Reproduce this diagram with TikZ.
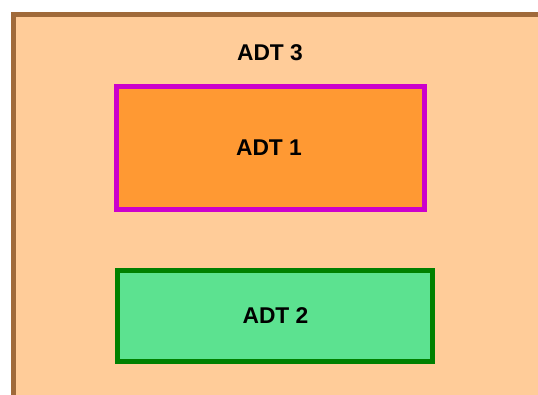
\documentclass[tikz,border=0pt]{standalone}
\usepackage{fontspec}
\setmainfont{Liberation Sans}
\definecolor{outerfill}{RGB}{255,204,153}
\definecolor{outerline}{RGB}{160,106,58}
\definecolor{onefill}{RGB}{255,153,51}
\definecolor{oneline}{RGB}{204,0,204}
\definecolor{twofill}{RGB}{92,226,144}
\definecolor{twoline}{RGB}{0,128,0}
\tikzset{
  lbl/.style={font=\fontsize{22.8}{27}\selectfont\bfseries, inner sep=0pt},
  adtbox/.style={line width=5pt}
}
\begin{document}
\begin{tikzpicture}[x=1pt,y=-1pt]
\useasboundingbox (0,0) rectangle (538,394);
\clip (0,0) rectangle (538,394);
\draw[adtbox, draw=outerline, fill=outerfill] (13.5,14.5) rectangle (600,450);
\draw[adtbox, draw=oneline, fill=onefill] (116.5,86.5) rectangle (424,209);
\draw[adtbox, draw=twoline, fill=twofill] (117,270.7) rectangle (432.5,361);
\node[lbl] (t3) at (270,53) {ADT 3};
\node[lbl] (t1) at (269,148) {ADT 1};
\node[lbl] (t2) at (275.5,316) {ADT 2};
\end{tikzpicture}
\end{document}
